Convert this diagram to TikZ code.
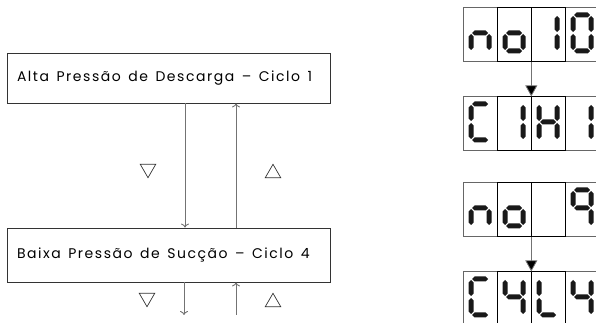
\documentclass[tikz,border=0pt]{standalone}
\usepackage{fontspec}
\setmainfont[LetterSpace=11]{Poppins}
\usetikzlibrary{arrows.meta,shapes.geometric}

% seven segment pieces, centreline length 18, thickness 5
\newcommand{\hseg}[2]{\fill[segcol] ({#1+1},{#2}) -- ++(2.5,2.5) -- ++(11,0)
  -- ++(2.5,-2.5) -- ++(-2.5,-2.5) -- ++(-11,0) -- cycle;}
\newcommand{\vseg}[2]{\fill[segcol] ({#1},{#2+1}) -- ++(2.5,2.5) -- ++(0,11)
  -- ++(-2.5,2.5) -- ++(-2.5,-2.5) -- ++(0,-11) -- cycle;}
\newcommand{\segA}{\hseg{2}{38}}
\newcommand{\segB}{\vseg{20}{20}}
\newcommand{\segC}{\vseg{20}{2}}
\newcommand{\segD}{\hseg{2}{2}}
\newcommand{\segE}{\vseg{2}{2}}
\newcommand{\segF}{\vseg{2}{20}}
\newcommand{\segG}{\hseg{2}{20}}
% one digit in a cell, #1,#2 lower left corner of the cell
\newcommand{\digit}[3]{%
  \begin{scope}[shift={({#1+6},{#2+9})}]
    \foreach \s in #3{\csname seg\s\endcsname}
  \end{scope}}
\newcommand{\stagespace}{\spaceskip=7.5pt\relax}

\tikzset{
  segcol/.style={fill=black!90},
  stagebox/.style={draw=black!80, line width=0.8pt, text width=303pt,
    inner xsep=10pt, align=left, font=\fontsize{14}{16}\selectfont,
    execute at begin node=\stagespace},
  flow/.style={draw=black!55, line width=0.9pt, -{To[length=4pt,width=8pt]}},
  tri/.style={regular polygon, regular polygon sides=3, draw=black!80,
    line width=0.7pt, minimum size=18pt, inner sep=0pt},
  disp/.style={draw=black!60, line width=0.6pt, minimum width=136pt,
    minimum height=54pt, inner sep=0pt},
  disparrow/.style={draw=black!55, line width=0.8pt,
    -{Triangle[length=11pt,width=12pt,fill=black]}}
}

\begin{document}
\begin{tikzpicture}[x=1pt,y=1pt]
  \useasboundingbox (0,0) rectangle (596,323);

  % pressure stages
  \node[stagebox, minimum height=50pt] (alta) at (168.5,245)
    {Alta Pressão de Descarga -- Ciclo 1};
  \node[stagebox, minimum height=54pt] (baixa) at (168.5,68)
    {Baixa Pressão de Sucção -- Ciclo 4};
  \draw[flow] ([xshift=16.5pt]alta.south) -- ([xshift=16.5pt]baixa.north);
  \draw[flow] ([xshift=67.5pt]baixa.north) -- ([xshift=67.5pt]alta.south);
  \coordinate (dnend) at (184,8);
  \coordinate (upend) at (236,8);
  \draw[flow] (baixa.south -| dnend) -- (dnend);
  \draw[flow] (upend) -- (baixa.south -| upend);
  \node[tri, shape border rotate=180] (tdown1) at (148,154.3) {};
  \node[tri] (tup1) at (273,149.7) {};
  \node[tri, shape border rotate=180] (tdown2) at (147,25.3) {};
  \node[tri] (tup2) at (273,20.7) {};

  % displays
  \foreach[count=\i] \yb in {261,172,86,-3}{
    \node[disp, anchor=south west] (disp\i) at (463,\yb) {};
    \draw[black, line width=1pt] (497,\yb) rectangle (565,\yb+54);
    \draw[black, line width=1pt] (531,\yb) -- (531,\yb+54);
  }
  \foreach[count=\i from 0] \d in {{C,E,G},{C,D,E,G},{B,C},{A,B,C,D,E,F}}
    \digit{463+34*\i}{261}{\d};
  \foreach[count=\i from 0] \d in {{A,D,E,F},{B,C},{B,C,E,F,G},{B,C}}
    \digit{463+34*\i}{172}{\d};
  \foreach[count=\i from 0] \d in {{C,E,G},{C,D,E,G},{},{A,B,C,F,G}}
    \digit{463+34*\i}{86}{\d};
  \foreach[count=\i from 0] \d in {{A,D,E,F},{B,C,F,G},{D,E,F},{B,C,F,G}}
    \digit{463+34*\i}{-3}{\d};
  \draw[disparrow] (disp1.south) -- (disp2.north);
  \draw[disparrow] (disp3.south) -- (disp4.north);
\end{tikzpicture}
\end{document}
